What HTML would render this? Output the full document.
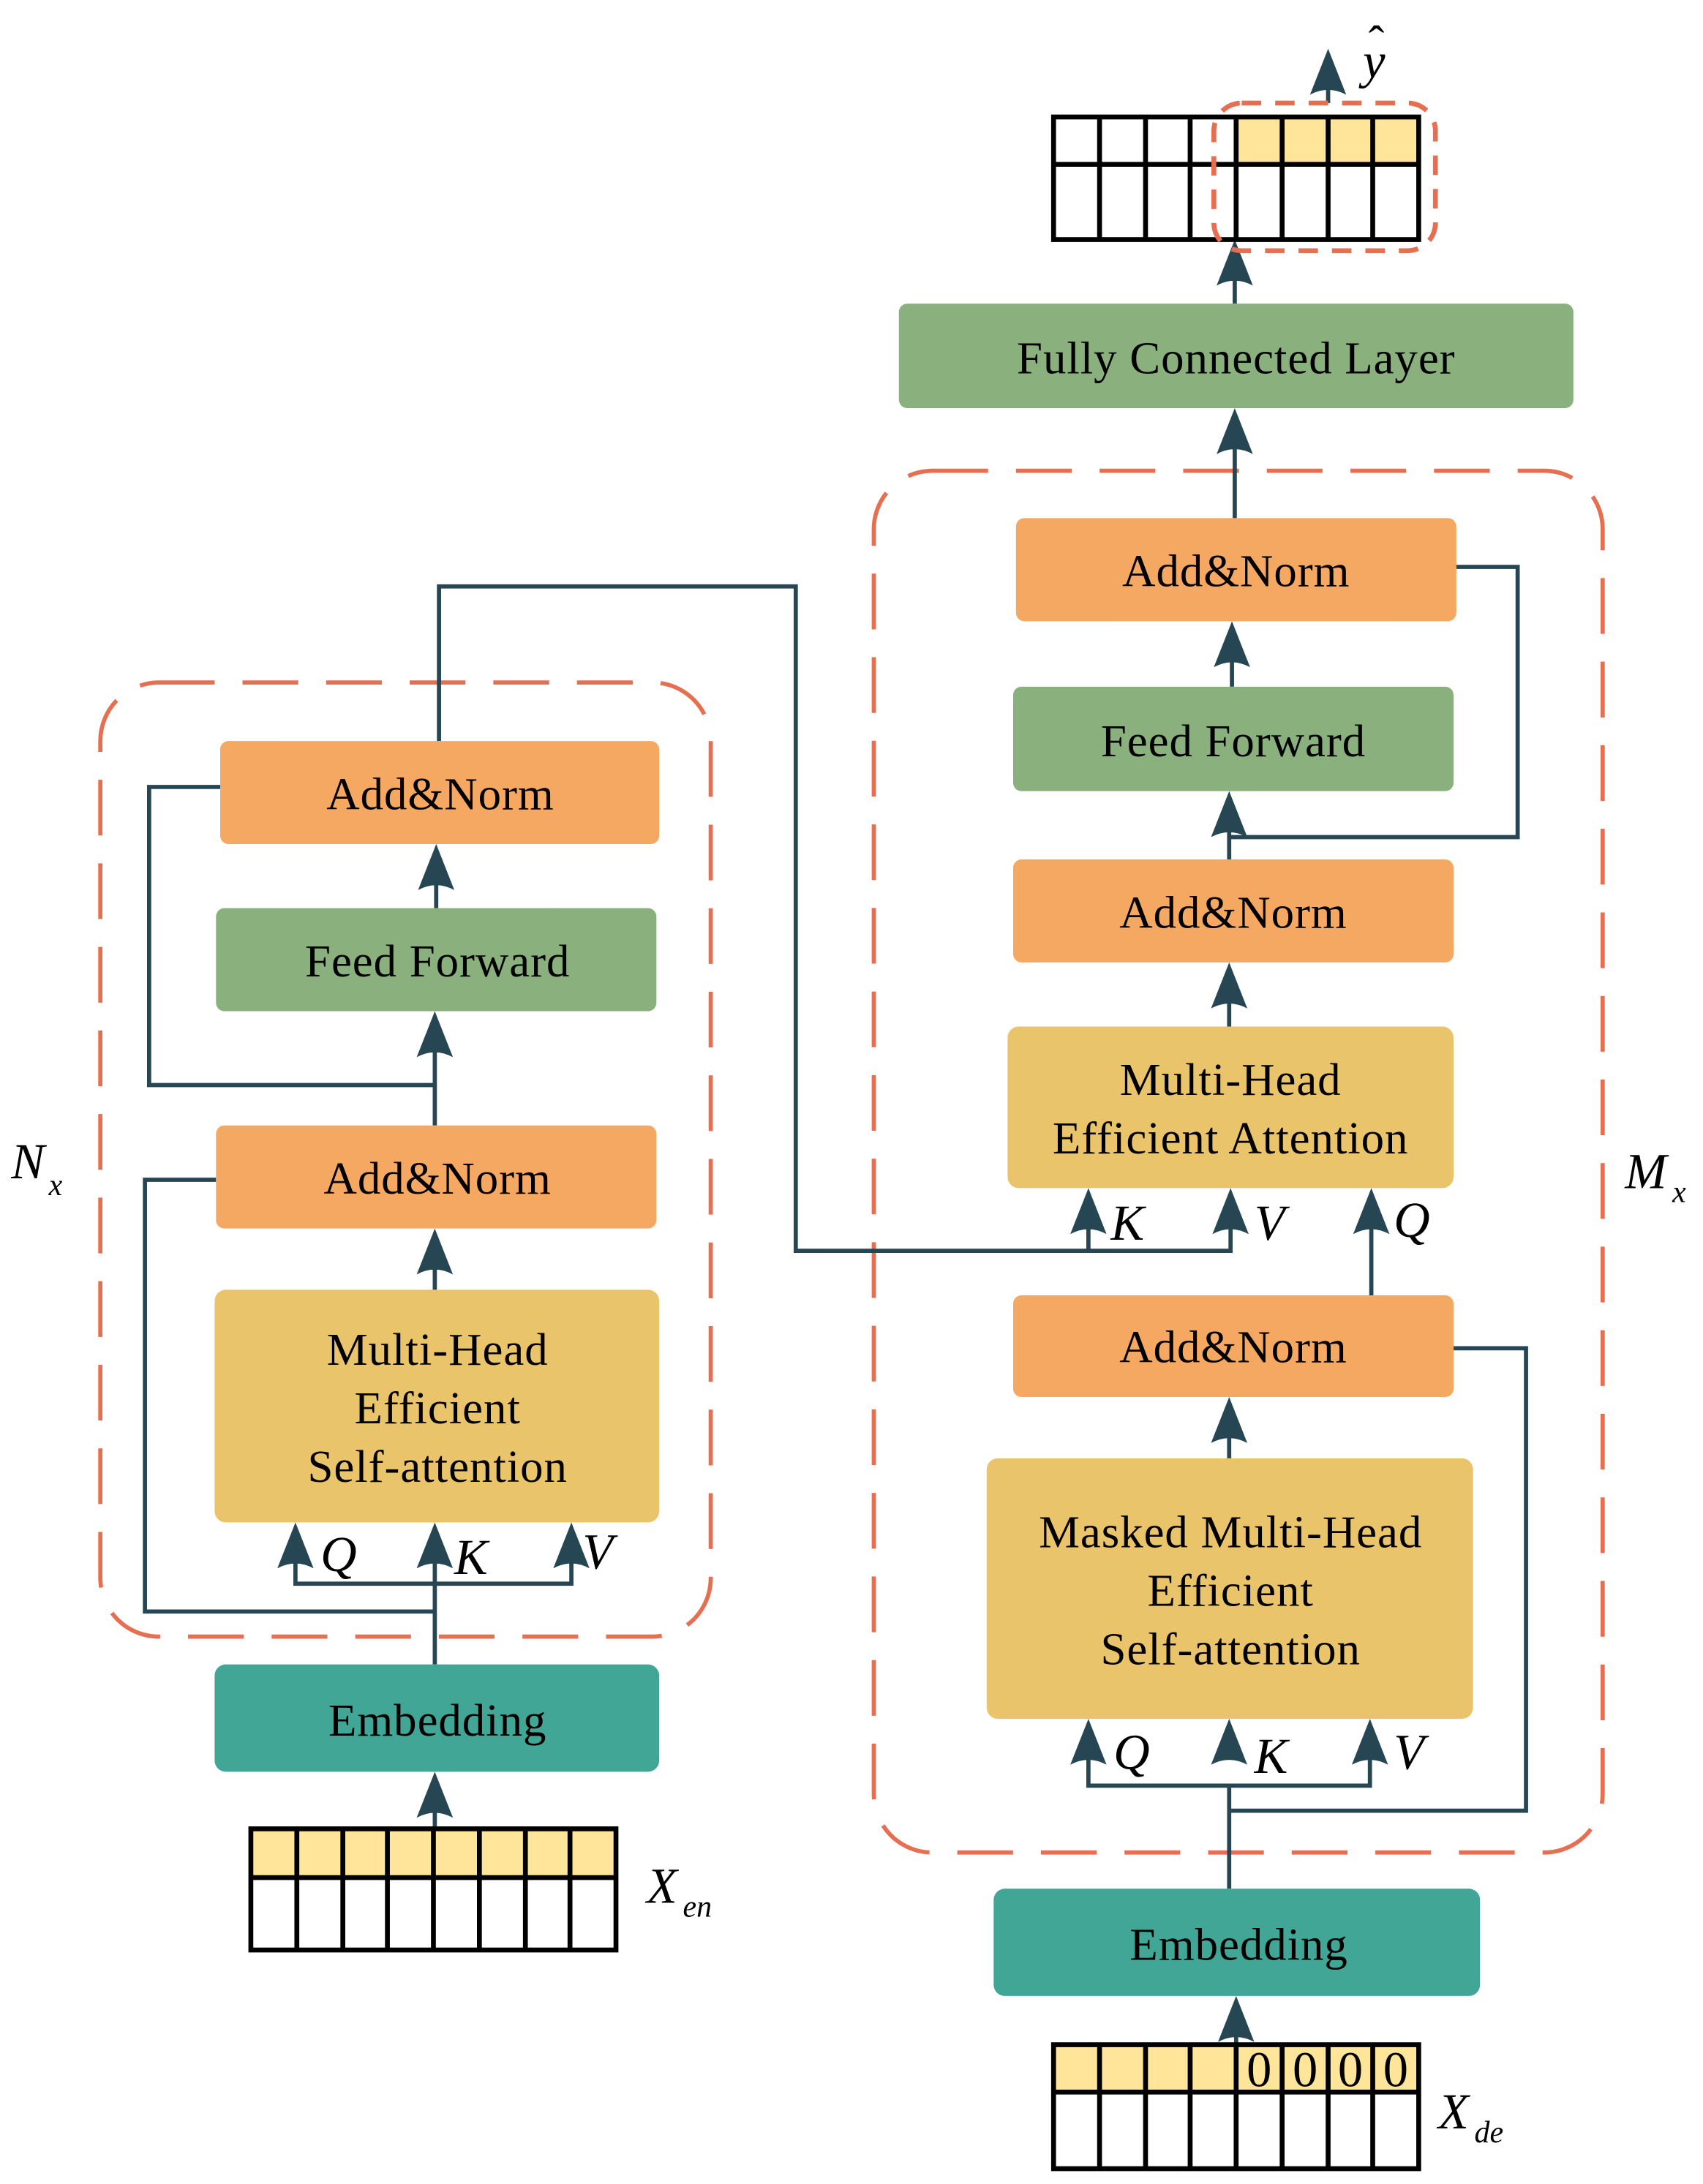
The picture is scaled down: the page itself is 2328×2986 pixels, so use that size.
<!DOCTYPE html>
<html><head><meta charset="utf-8"><style>
html,body{margin:0;padding:0;background:#fff;}
svg{display:block;}
text{font-family:"Liberation Serif","Times New Roman",serif;fill:#000;}
.t{font-size:33px;text-anchor:middle;letter-spacing:0.5px;}
.i{font-style:italic;font-size:36px;}
</style></head><body>
<svg width="2328" height="2986" viewBox="0 0 1222 1568" preserveAspectRatio="none" xmlns="http://www.w3.org/2000/svg">
<defs>
<path id="ah" d="M0,0 L-13,33 Q0,26 13,33 Z" fill="#264653"/>
</defs>
<rect x="72" y="490" width="438" height="685" rx="42" fill="none" stroke="#E76F51" stroke-width="3" stroke-dasharray="40 20"/>
<rect x="627" y="338" width="523" height="992" rx="42" fill="none" stroke="#E76F51" stroke-width="3" stroke-dasharray="40 20"/>

<g fill="none" stroke="#264653" stroke-width="3">
 <path d="M312,1313 V1290"/>
 <path d="M312,1195 V1137 M212,1105 V1137 H410 V1105 M312,1105 V1137"/>
 <path d="M312,1157 H104 V847 H155"/>
 <path d="M312,926 V900"/>
 <path d="M312,808 V745"/>
 <path d="M312,779 H107 V565 H158"/>
 <path d="M313,652 V625"/>
 <path d="M315,532 V421 H571 V898 H883 V870 M781,898 V870"/>
 <path d="M887,1468 V1450"/>
 <path d="M882,1356 V1282 M781,1252 V1282 H983 V1252"/>
 <path d="M882,1300 H1095 V968 H1043"/>
 <path d="M882,1047 V1020"/>
 <path d="M984,930 V870"/>
 <path d="M882,737 V708"/>
 <path d="M882,617 V586"/>
 <path d="M882,601 H1089 V407 H1045"/>
 <path d="M884,493 V464"/>
 <path d="M886,372 V310"/>
 <path d="M886,218 V190"/>
 <path d="M953,74 V52"/>
</g>
<use href="#ah" x="312" y="1272"/>
<use href="#ah" x="212" y="1093"/>
<use href="#ah" x="312" y="1093"/>
<use href="#ah" x="410" y="1093"/>
<use href="#ah" x="312" y="882"/>
<use href="#ah" x="312" y="726"/>
<use href="#ah" x="313" y="606"/>
<use href="#ah" x="781" y="853"/>
<use href="#ah" x="883" y="853"/>
<use href="#ah" x="984" y="853"/>
<use href="#ah" x="887" y="1433"/>
<use href="#ah" x="781" y="1234"/>
<use href="#ah" x="882" y="1234"/>
<use href="#ah" x="983" y="1234"/>
<use href="#ah" x="882" y="1003"/>
<use href="#ah" x="882" y="691"/>
<use href="#ah" x="882" y="568"/>
<use href="#ah" x="884" y="446"/>
<use href="#ah" x="886" y="293"/>
<use href="#ah" x="886" y="172"/>
<use href="#ah" x="953" y="35"/>

<rect x="158" y="532" width="315" height="74" rx="6" fill="#F4A862"/>
<text class="t" x="316" y="581">Add&amp;Norm</text>
<rect x="155" y="652" width="316" height="74" rx="6" fill="#8AB07E"/>
<text class="t" x="314" y="701">Feed Forward</text>
<rect x="155" y="808" width="316" height="74" rx="6" fill="#F4A862"/>
<text class="t" x="314" y="857">Add&amp;Norm</text>
<rect x="154" y="926" width="319" height="167" rx="8" fill="#E9C46A"/>
<text class="t" x="314" y="980">Multi-Head</text>
<text class="t" x="314" y="1022">Efficient</text>
<text class="t" x="314" y="1064">Self-attention</text>
<rect x="154" y="1195" width="319" height="77" rx="8" fill="#41A695"/>
<text class="t" x="314" y="1246">Embedding</text>
<text class="i" x="230" y="1128">Q</text>
<text class="i" x="326" y="1130">K</text>
<text class="i" x="418" y="1126">V</text>

<rect x="180" y="1313" width="262" height="35" fill="#FFE599"/>
<g fill="none" stroke="#000" stroke-width="3.5">
 <rect x="180" y="1313" width="262" height="87"/>
 <path d="M180,1348 H442 M213,1313 V1400 M246,1313 V1400 M278,1313 V1400 M311,1313 V1400 M344,1313 V1400 M377,1313 V1400 M409,1313 V1400"/>
</g>
<text class="i" x="464" y="1366">X</text><text class="i" x="490" y="1376" style="font-size:22px">en</text>
<text class="i" x="8" y="846">N</text><text class="i" x="35" y="858" style="font-size:22px">x</text>

<rect x="645" y="218" width="484" height="75" rx="6" fill="#8AB07E"/>
<text class="t" x="887" y="268">Fully Connected Layer</text>
<rect x="729" y="372" width="316" height="74" rx="6" fill="#F4A862"/>
<text class="t" x="887" y="421">Add&amp;Norm</text>
<rect x="727" y="493" width="316" height="75" rx="6" fill="#8AB07E"/>
<text class="t" x="885" y="543">Feed Forward</text>
<rect x="727" y="617" width="316" height="74" rx="6" fill="#F4A862"/>
<text class="t" x="885" y="666">Add&amp;Norm</text>
<rect x="723" y="737" width="320" height="116" rx="8" fill="#E9C46A"/>
<text class="t" x="883" y="786">Multi-Head</text>
<text class="t" x="883" y="828">Efficient Attention</text>
<rect x="727" y="930" width="316" height="73" rx="6" fill="#F4A862"/>
<text class="t" x="885" y="978">Add&amp;Norm</text>
<rect x="708" y="1047" width="349" height="187" rx="8" fill="#E9C46A"/>
<text class="t" x="883" y="1111">Masked Multi-Head</text>
<text class="t" x="883" y="1153">Efficient</text>
<text class="t" x="883" y="1195">Self-attention</text>
<rect x="713" y="1356" width="349" height="77" rx="8" fill="#41A695"/>
<text class="t" x="889" y="1407">Embedding</text>
<text class="i" x="797" y="890">K</text>
<text class="i" x="900" y="890">V</text>
<text class="i" x="1000" y="888">Q</text>
<text class="i" x="799" y="1270">Q</text>
<text class="i" x="900" y="1273">K</text>
<text class="i" x="1000" y="1270">V</text>
<text class="i" x="1166" y="853">M</text><text class="i" x="1200" y="863" style="font-size:22px">x</text>

<rect x="887" y="84" width="131" height="34" fill="#FFE599"/>
<g fill="none" stroke="#000" stroke-width="3.5">
 <rect x="756" y="84" width="262" height="88"/>
 <path d="M756,118 H1018 M789,84 V172 M822,84 V172 M854,84 V172 M887,84 V172 M920,84 V172 M953,84 V172 M985,84 V172"/>
</g>
<rect x="871" y="74" width="159" height="106" rx="20" fill="none" stroke="#E76F51" stroke-width="3.5" stroke-dasharray="14 10"/>
<text class="i" x="978" y="56">y</text>
<text x="982" y="42" style="font-size:34px">ˆ</text>

<rect x="756" y="1468" width="262" height="34" fill="#FFE599"/>
<g fill="none" stroke="#000" stroke-width="3.5">
 <rect x="756" y="1468" width="262" height="89"/>
 <path d="M756,1502 H1018 M789,1468 V1557 M822,1468 V1557 M854,1468 V1557 M887,1468 V1557 M920,1468 V1557 M953,1468 V1557 M985,1468 V1557"/>
</g>
<g style="font-size:36px;text-anchor:middle">
<text x="903.5" y="1498">0</text><text x="936.5" y="1498">0</text><text x="969" y="1498">0</text><text x="1001.5" y="1498">0</text>
</g>
<text class="i" x="1032" y="1528">X</text><text class="i" x="1058" y="1538" style="font-size:22px">de</text>
</svg>
</body></html>
